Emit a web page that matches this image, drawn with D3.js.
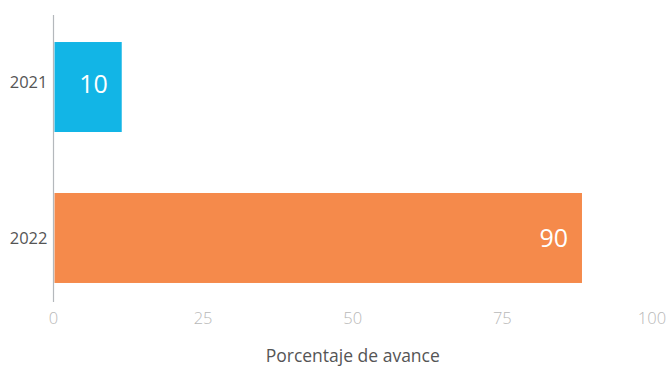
<!DOCTYPE html>
<html><head><meta charset="utf-8">
<script src="https://cdn.jsdelivr.net/npm/d3@7"></script>
<style>body{margin:0;background:#fff;} svg{display:block;font-family:"Open Sans",Lato,sans-serif;}</style>
</head><body>
<svg id="c" width="667" height="366"></svg>
<script>
const categories = ["2021", "2022"];
const values = [11.4, 88.3];
const valueLabels = ["10", "90"];
const colors = ["#12B5E6", "#F58A4B"];
const xTicks = [0, 25, 50, 75, 100];
const axisTitle = "Porcentaje de avance";

const svg = d3.select("#c");
const x = d3.scaleLinear().domain([0, 100]).range([53.5, 652]);
const y = d3.scaleBand().domain(categories).range([15, 310]).paddingInner(0.404).paddingOuter(0.179);

svg.append("g").selectAll("rect").data(categories).join("rect")
  .attr("x", x(0) + 1)
  .attr("y", d => y(d))
  .attr("width", (d, i) => x(values[i]) - x(0) - 1)
  .attr("height", y.bandwidth())
  .attr("fill", (d, i) => colors[i]);

svg.append("line").attr("x1", x(0)).attr("x2", x(0)).attr("y1", 15).attr("y2", 302)
  .attr("stroke", "#b4b8bc").attr("stroke-width", 1.2);

svg.append("g").selectAll("text").data(categories).join("text")
  .attr("x", x(0) - 6)
  .attr("y", (d, i) => y(d) + y.bandwidth() / 2 - (i === 0 ? 5 : 0))
  .attr("dy", "0.35em")
  .attr("text-anchor", "end")
  .attr("font-size", 16.5)
  .attr("fill", "#555")
  .text(d => d);

svg.append("g").selectAll("text").data(categories).join("text")
  .attr("x", (d, i) => x(values[i]) - 14)
  .attr("y", (d, i) => y(d) + y.bandwidth() / 2 - (i === 0 ? 3 : 0))
  .attr("dy", "0.35em")
  .attr("text-anchor", "end")
  .attr("font-size", 25)
  .attr("fill", "#fff")
  .text((d, i) => valueLabels[i]);

svg.append("g").selectAll("text").data(xTicks).join("text")
  .attr("x", d => x(d))
  .attr("y", 318)
  .attr("dy", "0.35em")
  .attr("text-anchor", "middle")
  .attr("font-size", 16.5)
  .attr("font-weight", 300)
  .attr("fill", "#b8b8b8")
  .text(d => d);

svg.append("text").attr("x", (x(0) + x(100)) / 2).attr("y", 362)
  .attr("text-anchor", "middle").attr("font-size", 17.5).attr("fill", "#555")
  .text(axisTitle);
</script>
</body></html>
